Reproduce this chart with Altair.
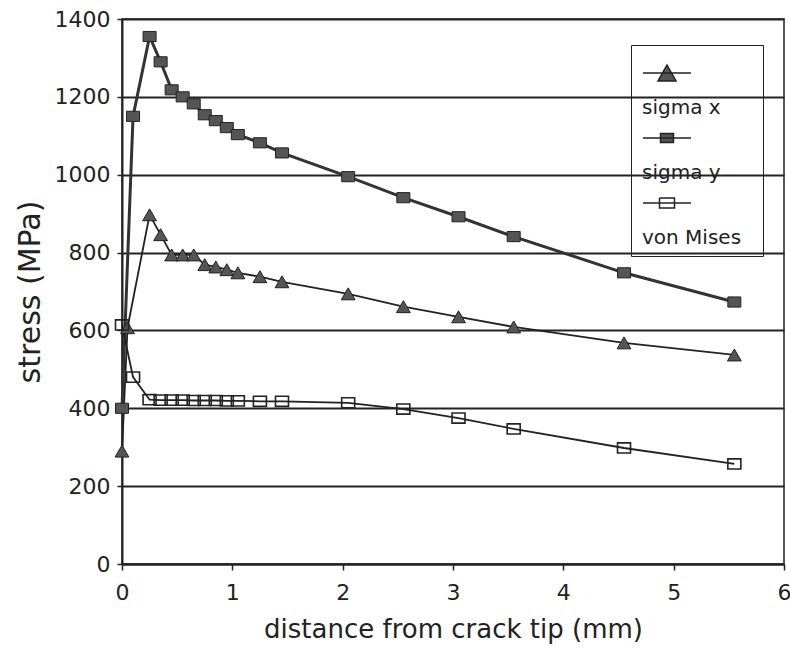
import altair as alt
import pandas as pd

# ---- data ----
series_names = ["sigma x", "sigma y", "von Mises"]

x_sigma_x = [0, 0.05, 0.25, 0.35, 0.45, 0.55, 0.65, 0.75, 0.85, 0.95, 1.05, 1.25, 1.45,
             2.05, 2.55, 3.05, 3.55, 4.55, 5.55]
sigma_x = [290, 607, 897, 846, 794, 794, 794, 769, 763, 756, 748, 738, 725,
           694, 661, 635, 609, 568, 537]

x_sigma_y = [0, 0.1, 0.25, 0.35, 0.45, 0.55, 0.65, 0.75, 0.85, 0.95, 1.05, 1.25, 1.45,
             2.05, 2.55, 3.05, 3.55, 4.55, 5.55]
sigma_y = [400, 1150, 1355, 1290, 1218, 1200, 1182, 1154, 1139, 1121, 1103, 1082, 1056,
           995, 941, 892, 841, 748, 673]

x_von_mises = [0, 0.1, 0.25, 0.35, 0.45, 0.55, 0.65, 0.75, 0.85, 0.95, 1.05, 1.25, 1.45,
               2.05, 2.55, 3.05, 3.55, 4.55, 5.55]
von_mises = [614, 480, 422, 421, 421, 421, 420, 420, 420, 419, 419, 418, 418,
             414, 398, 375, 347, 298, 257]

x_ticks = [0, 1, 2, 3, 4, 5, 6]
y_ticks = [0, 200, 400, 600, 800, 1000, 1200, 1400]

rows = []
for name, xs, ys in [("sigma x", x_sigma_x, sigma_x),
                     ("sigma y", x_sigma_y, sigma_y),
                     ("von Mises", x_von_mises, von_mises)]:
    for xv, yv in zip(xs, ys):
        rows.append({"series": name, "x": xv, "y": yv})
df = pd.DataFrame(rows)

FONT = "DejaVu Sans"
INK = "#222222"
GREY = "#555555"

x_enc = alt.X("x:Q", scale=alt.Scale(domain=[0, 6], nice=False),
              axis=alt.Axis(values=x_ticks, title="distance from crack tip (mm)", grid=False,
                            format="d", labelFontSize=22, titleFontSize=26, labelFlush=False,
                            tickSize=6, labelPadding=12, titlePadding=13))
y_enc = alt.Y("y:Q", scale=alt.Scale(domain=[0, 1400], nice=False),
              axis=alt.Axis(values=y_ticks, title="stress (MPa)", grid=True, format="d",
                            labelFontSize=22, titleFontSize=30, labelFlush=False,
                            tickSize=5, labelPadding=7, titlePadding=9))

base = alt.Chart(df).encode(x=x_enc, y=y_enc)

rect_path = "M-1,-0.78H1V0.78H-1Z"

line_sx = base.transform_filter(alt.datum.series == "sigma x").mark_line(color=INK, strokeWidth=1.8)
line_sy = base.transform_filter(alt.datum.series == "sigma y").mark_line(color="#333333", strokeWidth=3)
line_vm = base.transform_filter(alt.datum.series == "von Mises").mark_line(color=INK, strokeWidth=1.8)

pts_sx = base.transform_filter(alt.datum.series == "sigma x").mark_point(
    shape="triangle-up", size=190, filled=True, fill=GREY, stroke=INK, strokeWidth=1, opacity=1)
pts_sy = base.transform_filter(alt.datum.series == "sigma y").mark_point(
    shape=rect_path, size=169, filled=True, fill=GREY, stroke=INK, strokeWidth=1, opacity=1)
pts_vm = base.transform_filter(alt.datum.series == "von Mises").mark_point(
    shape=rect_path, size=169, filled=False, stroke=INK, strokeWidth=1.6, opacity=1)

# legend symbols: a line segment with its marker, drawn above the label
# (a lone move-to point only sets the legend frame's extent)
legend_paths = [
    "M1.0556,0.1111"
    "M-0.9444,-0.6481H-0.0556"
    "M-0.5,-0.7963L-0.3333,-0.5L-0.6667,-0.5Z",
    "M1.0556,0.1111"
    "M-0.9444,-0.6481H-0.0556"
    "M-0.6204,-0.7315H-0.3796V-0.5648H-0.6204Z",
    "M1.0556,0.1111"
    "M-0.9444,-0.6481H-0.0556"
    "M-0.6389,-0.7407L-0.3611,-0.7407L-0.3611,-0.5556L-0.6389,-0.5556L-0.6389,-0.7407"
    "L-0.6389,-0.5556L-0.3611,-0.5556L-0.3611,-0.7407Z",
]

legend_layer = base.transform_filter("false").mark_point(
    filled=False, fill=GREY, color=INK, stroke=INK, strokeWidth=1.5, opacity=1,
    fillOpacity=1, strokeOpacity=1
).encode(
    shape=alt.Shape("series:N",
                    scale=alt.Scale(domain=series_names, range=legend_paths),
                    legend=alt.Legend(orient="none", legendX=509, legendY=26, title=None,
                                      padding=8, strokeColor=INK, fillColor="transparent",
                                      labelFont=FONT, labelFontSize=20, labelColor=INK,
                                      labelOffset={"expr": "-107"}, symbolSize=11664,
                                      symbolStrokeWidth=1.5, symbolOpacity=1,
                                      rowPadding=0, labelLimit=300))
)

chart = alt.layer(
    line_sx, line_sy, line_vm, pts_sx, pts_sy, pts_vm, legend_layer
).properties(
    width=662, height=545,
    autosize=alt.AutoSizeParams(type="none"),
    padding={"left": 122, "top": 19, "right": 6, "bottom": 84},
    background="white",
).configure_view(
    stroke=INK, strokeWidth=1.5
).configure_axis(
    labelFont=FONT, titleFont=FONT, labelColor=INK, titleColor=INK,
    titleFontWeight="normal", domainColor=INK, domainWidth=2, tickColor=INK, tickWidth=1.5,
    gridColor=INK, gridOpacity=1, gridWidth=1.8,
)

chart.save("out.html", embed_options={"renderer": "svg", "actions": False})
